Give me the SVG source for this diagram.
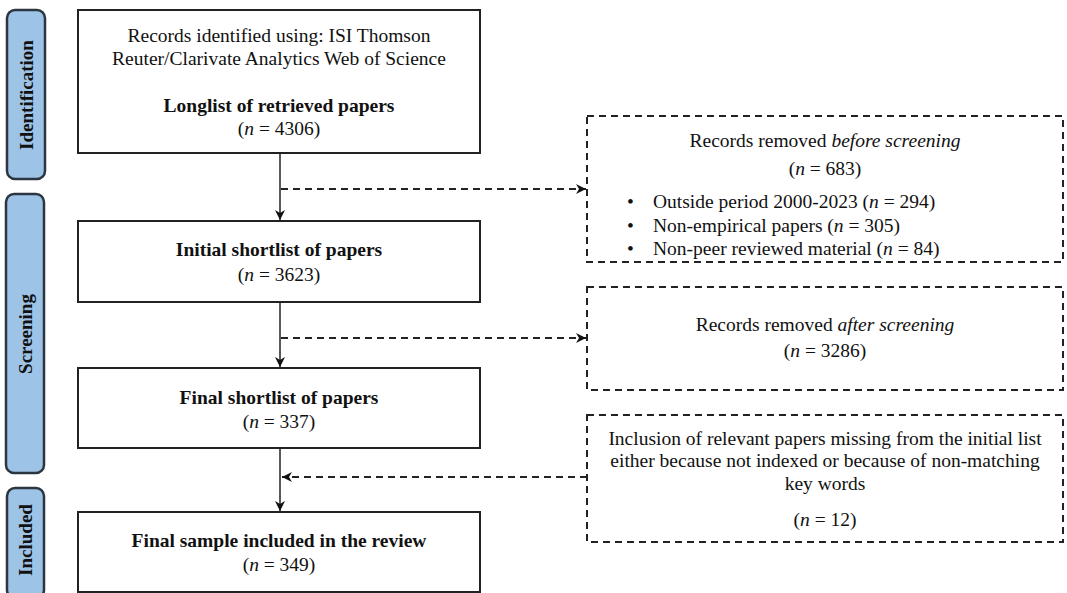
<svg xmlns="http://www.w3.org/2000/svg" width="1067" height="593" viewBox="0 0 1067 593">
<defs>
<marker id="ah" markerUnits="userSpaceOnUse" markerWidth="12" markerHeight="12" refX="10" refY="5" orient="auto">
<path d="M0,0 L10,5 L0,10 L3,5 z" fill="#111"/>
</marker>
</defs>
<style>
.phase{fill:#9dc3e6;stroke:#2b3640;stroke-width:2.5}
.ptxt{font-family:"Liberation Serif","Times New Roman",serif;font-weight:bold;font-size:19px;fill:#111;text-anchor:middle}
.box{fill:#fff;stroke:#222;stroke-width:2}
.dbox{fill:#fff;stroke:#222;stroke-width:2;stroke-dasharray:7 5}
.t{font-family:"Liberation Serif","Times New Roman",serif;font-size:19.5px;fill:#111;text-anchor:middle}
.tl{font-family:"Liberation Serif","Times New Roman",serif;font-size:19.5px;fill:#111}
.b{font-weight:bold}
.i{font-style:italic}
.solid{stroke:#222;stroke-width:1.5;fill:none}
.dash{stroke:#222;stroke-width:2;fill:none;stroke-dasharray:7 5}
</style>
<rect width="1067" height="593" fill="#fff"/>
<g id="phase-identification">
<rect class="phase" x="7" y="10" width="38" height="169" rx="8"/>
<text class="ptxt" transform="translate(33,95) rotate(-90)">Identification</text>
</g>
<g id="phase-screening">
<rect class="phase" x="6" y="194" width="38" height="279" rx="8"/>
<text class="ptxt" transform="translate(32,334) rotate(-90)">Screening</text>
</g>
<g id="phase-included">
<rect class="phase" x="7" y="488" width="37" height="110" rx="8"/>
<text class="ptxt" transform="translate(32,540) rotate(-90)">Included</text>
</g>
<g id="connectors">
<line class="solid" x1="280" y1="153" x2="280" y2="220" marker-end="url(#ah)"/>
<line class="solid" x1="280" y1="302" x2="280" y2="367" marker-end="url(#ah)"/>
<line class="solid" x1="280" y1="448" x2="280" y2="511" marker-end="url(#ah)"/>
<line class="dash" x1="281" y1="189" x2="586" y2="189" marker-end="url(#ah)"/>
<line class="dash" x1="281" y1="338" x2="586" y2="338" marker-end="url(#ah)"/>
<line class="dash" x1="587" y1="477" x2="282" y2="477" marker-end="url(#ah)"/>
</g>
<g id="box-longlist">
<rect class="box" x="78" y="10" width="402" height="143"/>
<text class="t" x="279" y="42">Records identified using: ISI Thomson</text>
<text class="t" x="279" y="65">Reuter/Clarivate Analytics Web of Science</text>
<text class="t b" x="279" y="112">Longlist of retrieved papers</text>
<text class="t" x="279" y="135">(<tspan class="i">n</tspan> = 4306)</text>
</g>
<g id="box-initial">
<rect class="box" x="78" y="221" width="402" height="81"/>
<text class="t b" x="279" y="256">Initial shortlist of papers</text>
<text class="t" x="279" y="281">(<tspan class="i">n</tspan> = 3623)</text>
</g>
<g id="box-final-shortlist">
<rect class="box" x="78" y="368" width="402" height="80"/>
<text class="t b" x="279" y="404">Final shortlist of papers</text>
<text class="t" x="279" y="428">(<tspan class="i">n</tspan> = 337)</text>
</g>
<g id="box-final-sample">
<rect class="box" x="78" y="512" width="402" height="80"/>
<text class="t b" x="279" y="547">Final sample included in the review</text>
<text class="t" x="279" y="571">(<tspan class="i">n</tspan> = 349)</text>
</g>
<g id="box-removed-before">
<rect class="dbox" x="587" y="116" width="476" height="146"/>
<text class="t" x="825" y="147">Records removed <tspan class="i">before screening</tspan></text>
<text class="t" x="825" y="175">(<tspan class="i">n</tspan> = 683)</text>
<text class="tl" x="627" y="208">•</text>
<text class="tl" x="653" y="208">Outside period 2000-2023 (<tspan class="i">n</tspan> = 294)</text>
<text class="tl" x="627" y="232">•</text>
<text class="tl" x="653" y="232">Non-empirical papers (<tspan class="i">n</tspan> = 305)</text>
<text class="tl" x="627" y="255">•</text>
<text class="tl" x="653" y="255">Non-peer reviewed material (<tspan class="i">n</tspan> = 84)</text>
</g>
<g id="box-removed-after">
<rect class="dbox" x="587" y="287" width="476" height="103"/>
<text class="t" x="825" y="331">Records removed <tspan class="i">after screening</tspan></text>
<text class="t" x="825" y="357">(<tspan class="i">n</tspan> = 3286)</text>
</g>
<g id="box-inclusion">
<rect class="dbox" x="587" y="415" width="476" height="127"/>
<text class="t" x="825" y="445">Inclusion of relevant papers missing from the initial list</text>
<text class="t" x="825" y="467">either because not indexed or because of non-matching</text>
<text class="t" x="825" y="490">key words</text>
<text class="t" x="825" y="526">(<tspan class="i">n</tspan> = 12)</text>
</g>
</svg>
